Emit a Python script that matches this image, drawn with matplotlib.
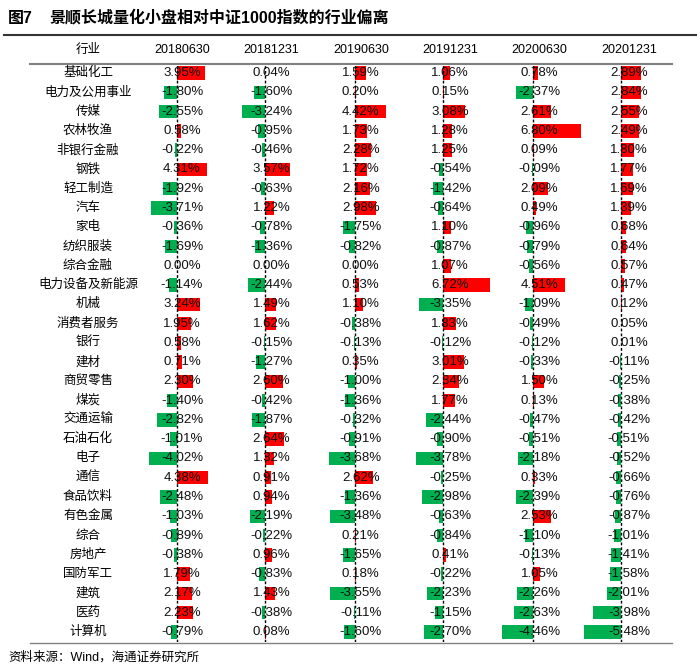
import matplotlib
matplotlib.use('Agg')
import matplotlib.pyplot as plt

plt.rcParams['font.family'] = ['Liberation Sans', 'Noto Sans CJK SC']

industries = ['基础化工', '电力及公用事业', '传媒', '农林牧渔', '非银行金融', '钢铁', '轻工制造', '汽车',
              '家电', '纺织服装', '综合金融', '电力设备及新能源', '机械', '消费者服务', '银行', '建材',
              '商贸零售', '煤炭', '交通运输', '石油石化', '电子', '通信', '食品饮料', '有色金属', '综合',
              '房地产', '国防军工', '建筑', '医药', '计算机']
dates = ['20180630', '20181231', '20190630', '20191231', '20200630', '20201231']

d20180630 = [3.95, -1.80, -2.55, 0.58, -0.22, 4.31, -1.92, -3.71, -0.36, -1.69, 0.00, -1.14, 3.24, 1.95, 0.58,
             0.71, 2.30, -1.40, -2.82, -1.01, -4.02, 4.38, -2.48, -1.03, -0.89, -0.38, 1.79, 2.17, 2.23, -0.79]
d20181231 = [0.04, -1.60, -3.24, -0.95, -0.46, 3.57, -0.63, 1.22, -0.78, -1.36, 0.00, -2.44, 1.49, 1.62, -0.15,
             -1.27, 2.60, -0.42, -1.87, 2.64, 1.32, 0.91, 0.94, -2.19, -0.22, 0.96, -0.83, 1.43, -0.38, 0.08]
d20190630 = [1.59, 0.20, 4.42, 1.73, 2.28, 1.72, 2.16, 2.98, -1.75, -0.82, 0.00, 0.53, 1.10, -0.38, -0.13,
             0.35, -1.00, -1.36, -0.32, -0.91, -3.68, 2.62, -1.36, -3.48, 0.21, -1.65, 0.18, -3.55, -0.11, -1.60]
d20191231 = [1.06, 0.15, 3.08, 1.28, 1.25, -0.54, -1.42, -0.64, 1.10, -0.87, 1.07, 6.72, -3.35, 1.83, -0.12,
             3.01, 2.34, 1.77, -2.44, -0.90, -3.78, -0.25, -2.98, -0.63, -0.84, 0.41, -0.22, -2.23, -1.15, -2.70]
d20200630 = [0.78, -2.37, 2.61, 6.80, 0.09, -0.09, 2.09, 0.49, -0.96, -0.79, -0.56, 4.51, -1.09, -0.49, -0.12,
             -0.33, 1.50, 0.13, -0.47, -0.51, -2.18, 0.33, -2.39, 2.53, -1.10, -0.13, 1.05, -2.26, -2.63, -4.46]
d20201231 = [2.89, 2.84, 2.55, 2.49, 1.80, 1.77, 1.69, 1.39, 0.68, 0.64, 0.57, 0.47, 0.12, 0.05, 0.01,
             -0.11, -0.25, -0.38, -0.42, -0.51, -0.52, -0.66, -0.76, -0.87, -1.01, -1.41, -1.58, -2.01, -3.98, -5.48]
columns = [d20180630, d20181231, d20190630, d20191231, d20200630, d20201231]

W, H = 700, 672
fig = plt.figure(figsize=(W / 100, H / 100), dpi=100)

# layout in pixels
top, bottom = 63.5, 641.5
col_w = 89.4
centers = [182 + col_w * i for i in range(6)]
zeros = [177, 265, 355, 443, 533, 621]
ppu = 7.05  # pixels per 1%
label_x = 88
n = len(industries)


def fx(px):
    return px / W


def fy(py):
    return 1 - py / H


# background axes for text and rules
bg = fig.add_axes([0, 0, 1, 1])
bg.set_xlim(0, W)
bg.set_ylim(H, 0)
bg.axis('off')

bg.text(8, 18, '图7', fontsize=11.5, fontweight='bold', va='center', ha='left')
bg.text(50, 18, '景顺长城量化小盘相对中证1000指数的行业偏离', fontsize=11.5, fontweight='bold',
        va='center', ha='left')
bg.plot([4, 696], [35, 35], color='#333333', lw=1.5)
bg.plot([30, 672], [63.5, 63.5], color='#808080', lw=1.5)
bg.plot([30, 672], [643, 643], color='#808080', lw=1)
bg.text(8, 657, '资料来源：Wind，海通证券研究所', fontsize=9, va='center', ha='left')

bg.text(label_x, 50, '行业', fontsize=9, ha='center', va='center')
for c, d in zip(centers, dates):
    bg.text(c, 50, d, fontsize=9, ha='center', va='center')

row_h = (bottom - top) / n
for i, name in enumerate(industries):
    bg.text(label_x, top + row_h * (i + 0.5), name, fontsize=9, ha='center', va='center')

for c, z, vals in zip(centers, zeros, columns):
    left_px = c - col_w / 2
    ax = fig.add_axes([fx(left_px), fy(bottom), fx(col_w), (bottom - top) / H])
    ax.set_xlim((left_px - z) / ppu, (left_px + col_w - z) / ppu)
    ax.set_ylim(n - 0.5, -0.5)
    ax.axis('off')
    colors = ['#FF0000' if v > 0 else '#00B050' for v in vals]
    ax.barh(range(n), vals, height=0.7, color=colors)
    ax.axvline(0, color='black', lw=1, linestyle=(0, (2, 1.5)))
    xc = (c - z) / ppu
    for i, v in enumerate(vals):
        ax.text(xc, i, f'{v:.2f}%', fontsize=9.5, ha='center', va='center', color='#111111')

fig.savefig('out.png', dpi=100)
